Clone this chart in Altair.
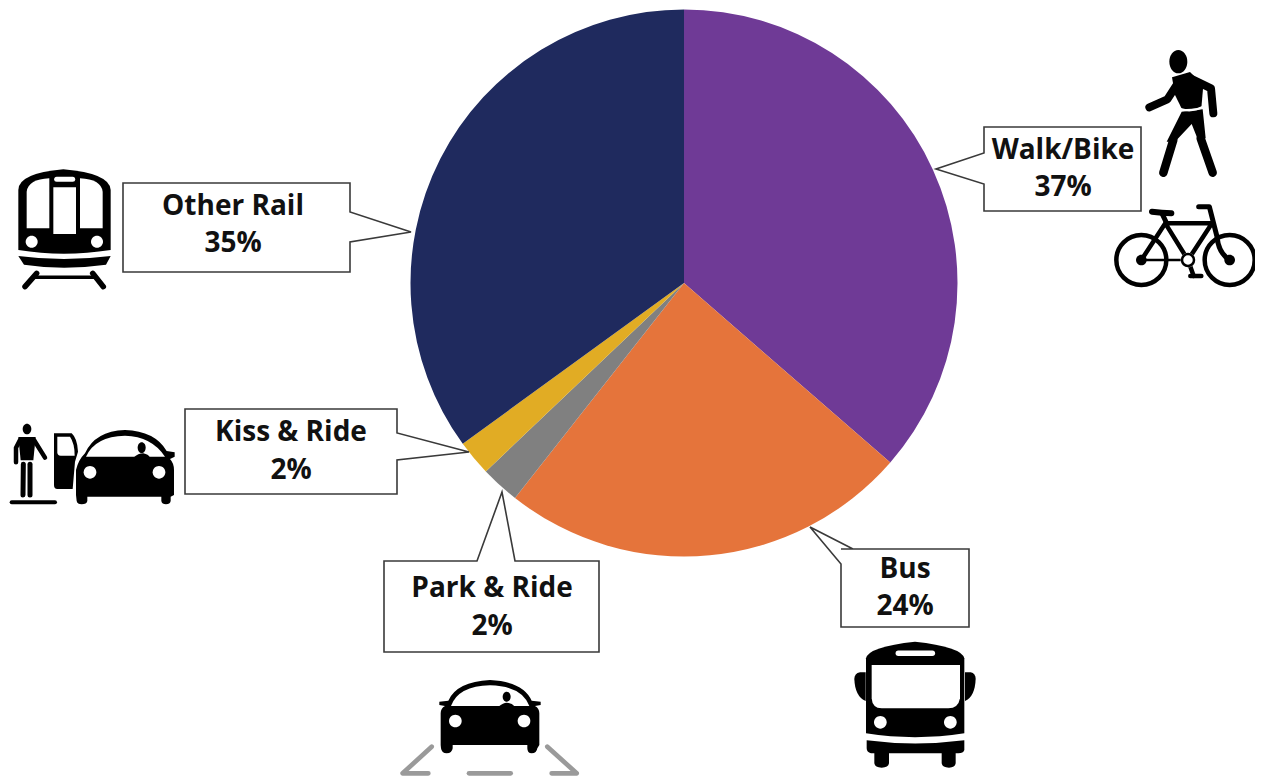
import re
import altair as alt
import pandas as pd

# ---- data ----
names = ["Walk/Bike", "Bus", "Park & Ride", "Kiss & Ride", "Other Rail"]
shares = [36.4, 24.2, 2.3, 2.1, 35.0]
share_labels = ["37%", "24%", "2%", "2%", "35%"]
colors = ["#6F3A96", "#E5743B", "#808080", "#E1AC24", "#1F2A5E"]

# ---- layout, in page pixels ----
M = 8
CX, CY, R = 684, 283, 273.5
label_pos = {
    "Walk/Bike": (1063, 151, 188),
    "Bus": (905, 570, 607),
    "Park & Ride": (492, 589, 627),
    "Kiss & Ride": (291, 433, 471),
    "Other Rail": (233, 207, 244),
}
FONT = "Open Sans"
FS = 28
INK = "#111111"
LINE = "#3A3A3A"

callouts = [
    "M984,127 L1141,127 L1141,211 L984,211 L984,184 L936,169 L984,153 Z",
    "M123,183 L350,183 L350,212 L411,232 L350,242 L350,272 L123,272 Z",
    "M185,409 L397,409 L397,433 L469,452 L397,460 L397,494 L185,494 Z",
    "M384,561 L477,561 L502,492 L515,561 L599,561 L599,652 L384,652 Z",
    "M841,549 L853,549 L810,527 L841,564 L841,627 L969,627 L969,549 Z",
]


def zoomed(ox, oy, d):
    """Turn a path drawn in 3x crop units with crop origin (ox, oy) into page pixels."""
    out, i = [], 0
    for tok in re.findall(r"[A-Za-z]|-?\d+\.?\d*", d):
        if tok.isalpha():
            out.append(tok)
        else:
            v = float(tok) / 3 + (ox if i % 2 == 0 else oy)
            out.append(f"{v:.2f}")
            i += 1
    return " ".join(out)


def ell(cx, cy, rx, ry=None):
    ry = rx if ry is None else ry
    k = 0.5523
    return (
        f"M{cx - rx},{cy} C{cx - rx},{cy - k * ry} {cx - k * rx},{cy - ry} {cx},{cy - ry} "
        f"C{cx + k * rx},{cy - ry} {cx + rx},{cy - k * ry} {cx + rx},{cy} "
        f"C{cx + rx},{cy + k * ry} {cx + k * rx},{cy + ry} {cx},{cy + ry} "
        f"C{cx - k * rx},{cy + ry} {cx - rx},{cy + k * ry} {cx - rx},{cy} Z"
    )


K = "black"
W = "white"
G = "#9A9A9A"
icons = []


def fill(o, d, c=K):
    icons.append((zoomed(o[0], o[1], d), c, None, 0))


def line(o, d, w, c=K):
    icons.append((zoomed(o[0], o[1], d), None, c, w))


# pedestrian
o = (1110, 40)
fill(o, ell(205, 65, 27, 35))
fill(o, "M186,112 L240,96 L280,135 L274,205 L216,208 L195,165 Z")
line(o, "M235,112 L303,145 L310,220", 8)
line(o, "M200,135 L172,178 L118,202", 8)
fill(o, "M215,215 L278,208 L287,295 L262,295 L245,252 L195,305 L170,305 Z")
line(o, "M190,300 L160,398", 8.5)
line(o, "M272,295 L308,398", 8.5)
line(o, "M212,207 Q245,218 280,200", 2, W)
# bicycle (moved in from the page edge, which the chart area cannot reach)
o = (1102, 40)
line(o, ell(118, 660, 75), 4.5)
line(o, ell(383, 660, 75), 4.5)
fill(o, ell(118, 660, 16))
fill(o, ell(383, 660, 16))
line(o, "M118,660 L190,550 L330,550 L258,660 L190,550", 4.5)
line(o, "M118,660 L258,660", 2.5)
line(o, "M180,520 L195,552", 5)
line(o, "M290,500 L322,500 L345,590 Q350,640 383,660", 5)
line(o, "M150,515 Q180,518 208,520", 6)
line(o, "M258,660 L275,708", 4.5)
line(o, "M265,708 L298,708", 4.5)
fill(o, ell(258, 660, 22), W)
line(o, ell(258, 660, 18), 2.5)
# train
o = (0, 160)
fill(o, "M55,270 L55,90 Q55,40 190,28 Q330,40 332,90 L332,270 Q190,292 55,270 Z")
fill(o, "M80,205 L80,95 Q85,58 148,55 L148,205 Z", W)
fill(o, "M308,205 L308,95 Q303,58 240,55 L240,205 Z", W)
fill(o, "M160,82 L228,82 L228,222 L160,222 Z", W)
line(o, "M170,58 L218,58", 5, W)
fill(o, ell(95, 245, 18), W)
fill(o, ell(291, 245, 18), W)
fill(o, "M55,288 Q190,306 332,288 L318,314 Q190,332 72,314 Z")
line(o, "M110,340 L75,380", 5.5)
line(o, "M278,340 L310,380", 5.5)
line(o, "M100,352 L285,352", 3.5)
# kiss & ride
o = (0, 415)
fill(o, ell(81, 42, 13, 16))
fill(o, "M55,66 L107,66 L100,136 L62,136 Z")
line(o, "M60,75 L48,98 L48,142", 4.5)
line(o, "M102,75 L135,128", 4.5)
line(o, "M70,148 L69,240", 5)
line(o, "M90,148 L90,240", 5)
line(o, "M35,262 L165,262", 4)
fill(o, "M162,55 L215,55 Q232,70 234,110 L225,140 L218,222 L172,222 Q162,222 162,210 Z")
fill(o, "M172,65 L210,65 Q224,85 224,122 L182,122 Q172,122 172,112 Z", W)
fill(o, "M228,165 Q235,135 255,115 Q285,48 375,45 Q465,48 500,108 L524,112 L524,125 L510,132 Q522,145 522,165 L522,240 L512,245 L512,258 Q510,268 498,268 Q486,268 484,258 L484,245 L262,245 L262,258 Q260,268 245,268 Q232,268 230,258 L228,240 Z")
fill(o, "M258,125 Q285,64 375,62 Q455,64 495,125 Z", W)
fill(o, ell(425, 98, 12, 16))
fill(o, "M400,128 Q415,115 430,115 Q445,118 450,128 Z")
fill(o, ell(270, 172, 19), W)
fill(o, ell(477, 172, 19), W)
# park & ride
o = (390, 670)
fill(o, "M152,130 Q152,115 165,108 L148,105 L148,95 L175,92 Q200,35 300,30 Q400,35 425,92 L452,95 L452,105 L435,108 Q448,115 448,130 L448,225 L442,235 Q440,250 425,250 Q412,250 412,235 L412,225 L188,225 L188,235 Q186,250 170,250 Q155,250 153,235 L152,225 Z")
fill(o, "M183,108 Q205,48 300,46 Q395,48 418,108 Z", W)
fill(o, ell(350, 80, 12, 15))
fill(o, "M325,110 Q340,98 350,98 Q365,98 375,110 Z")
fill(o, ell(196, 153, 19), W)
fill(o, ell(402, 153, 19), W)
line(o, "M125,230 L38,310 L115,310", 4.7, G)
line(o, "M237,310 L362,310", 4.7, G)
line(o, "M472,230 L560,310 L485,310", 4.7, G)
# bus
o = (845, 635)
fill(o, "M63,70 Q70,35 210,20 Q350,35 358,70 L358,295 Q210,318 63,295 Z")
fill(o, "M62,112 L45,112 Q28,115 28,132 Q30,185 62,198 Z")
fill(o, "M360,112 L377,112 Q392,115 392,132 Q390,185 360,198 Z")
fill(o, "M80,90 L345,90 L345,190 Q340,220 310,220 L110,220 Q82,220 80,190 Z", W)
line(o, "M160,55 L262,55", 5.5, W)
fill(o, ell(106, 262, 19), W)
fill(o, ell(316, 262, 19), W)
fill(o, "M65,316 Q210,335 358,316 L358,345 Q355,355 340,355 L332,355 L332,385 Q330,398 312,398 Q292,398 290,385 L290,355 L132,355 L132,385 Q130,398 110,398 Q90,398 88,385 L88,355 L78,355 Q65,352 65,340 Z")

# ---- chart ----
table = pd.DataFrame({"name": names, "share": shares, "label": share_labels, "idx": range(len(names))})
anchor = pd.DataFrame({"a": [0]})
origin = dict(x=alt.value(-M), y=alt.value(-M))

pie = alt.Chart(table).mark_arc(radius=R).encode(
    x=alt.value(CX - M),
    y=alt.value(CY - M),
    theta=alt.Theta("share:Q", stack=True),
    order=alt.Order("idx:Q"),
    color=alt.Color("name:N", scale=alt.Scale(domain=names, range=colors), legend=None),
)

layers = [pie]
for d in callouts:
    layers.append(
        alt.Chart(anchor)
        .mark_point(shape=d, size=4, filled=True, fill="white", stroke=LINE, strokeWidth=1.6, opacity=1, strokeJoin="miter")
        .encode(**origin)
    )
for d, f, s, w in icons:
    if f:
        m = alt.Chart(anchor).mark_point(shape=d, size=4, filled=True, fill=f, opacity=1)
    else:
        m = alt.Chart(anchor).mark_point(shape=d, size=4, filled=False, stroke=s, strokeWidth=w, strokeCap="round", strokeJoin="round", opacity=1)
    layers.append(m.encode(**origin))

for i, n in enumerate(names):
    x, y1, y2 = label_pos[n]
    row = table[table["idx"] == i]
    for fld, y in (("name", y1), ("label", y2)):
        layers.append(
            alt.Chart(row)
            .mark_text(font=FONT, fontSize=FS, fontWeight="bold", color=INK, align="center", baseline="middle")
            .encode(x=alt.value(x - M), y=alt.value(y - M), text=alt.Text(f"{fld}:N"))
        )

chart = (
    alt.layer(*layers)
    .properties(width=1247, height=768, padding=0, autosize=alt.AutoSizeParams(type="none"))
    .configure_view(strokeWidth=0)
    .resolve_scale(theta="independent")
)
chart.save("out.html", embed_options={"renderer": "svg", "actions": False})
